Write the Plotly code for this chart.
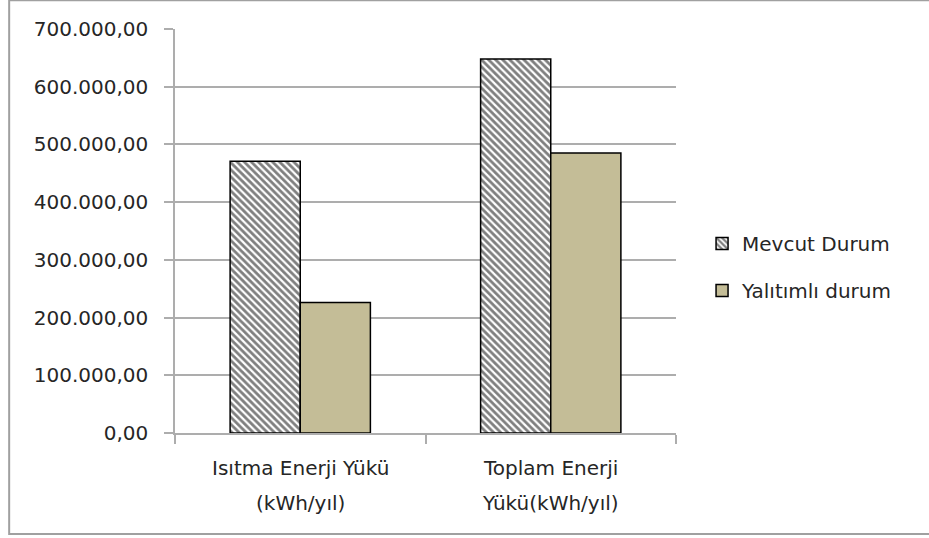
import plotly.graph_objects as go

# Annual energy loads, kWh/yıl
categories = ["Isıtma Enerji Yükü (kWh/yıl)", "Toplam Enerji Yükü(kWh/yıl)"]
category_lines = [["Isıtma Enerji Yükü", "(kWh/yıl)"], ["Toplam Enerji", "Yükü(kWh/yıl)"]]
mevcut_durum = [471000, 648000]
yalitimli_durum = [226000, 485000]
series_names = ["Mevcut Durum", "Yalıtımlı durum"]
y_ticks = [0, 100000, 200000, 300000, 400000, 500000, 600000, 700000]

FONT = "DejaVu Sans"
TEXT = "#262626"
GRID = "#adadad"

fig = go.Figure()
fig.add_trace(go.Bar(
    x=categories, y=mevcut_durum, name=series_names[0],
    legendgroup="a",
    marker=dict(
        color="white",
        line=dict(color="black", width=1.5),
        pattern=dict(shape="\\", fgcolor="black", bgcolor="white",
                     size=5, solidity=0.55),
    ),
))
fig.add_trace(go.Bar(
    x=categories, y=yalitimli_durum, name=series_names[1],
    legendgroup="b",
    marker=dict(color="#c4bd97", line=dict(color="black", width=1.5)),
))

# two-line category labels under the axis, with wider line spacing
annotations = []
for cat, lines in zip(categories, category_lines):
    for i, line in enumerate(lines):
        annotations.append(dict(
            x=cat, xref="x", y=-0.087 - i * 0.087, yref="paper",
            text=line, showarrow=False, xanchor="center", yanchor="middle",
            font=dict(family=FONT, size=20, color=TEXT),
        ))

fig.update_layout(
    width=929, height=538,
    margin=dict(l=175, r=253, t=29, b=105),
    paper_bgcolor="white", plot_bgcolor="white",
    barmode="group", bargap=0.44, bargroupgap=0,
    separators=",.",
    font=dict(family=FONT, size=20, color=TEXT),
    showlegend=True,
    legend=dict(
        x=1.052, xanchor="left", y=0.411, yanchor="middle",
        font=dict(family=FONT, size=20, color=TEXT),
        tracegroupgap=18, traceorder="grouped", itemwidth=30,
        bgcolor="rgba(0,0,0,0)",
    ),
    annotations=annotations,
    shapes=[dict(
        type="rect", xref="paper", yref="paper",
        x0=-0.331, x1=1.7, y0=-0.25, y1=1.071,
        line=dict(color="#a0a0a0", width=2), layer="below",
    )],
)

fig.update_xaxes(
    showline=True, linecolor=GRID, linewidth=1.5,
    ticks="outside", tickson="boundaries", ticklen=9,
    tickcolor=GRID, tickwidth=1.5, showticklabels=False,
)
fig.update_yaxes(
    range=[0, 700000], tickvals=y_ticks, tickformat=",.2f",
    showgrid=True, gridcolor=GRID, gridwidth=1.5,
    showline=True, linecolor=GRID, linewidth=1.5,
    ticks="outside", ticklen=9, tickcolor=GRID, tickwidth=1.5,
    tickfont=dict(family=FONT, size=20, color=TEXT),
    ticklabelstandoff=12, zeroline=False,
)

fig.write_html("out.html")
